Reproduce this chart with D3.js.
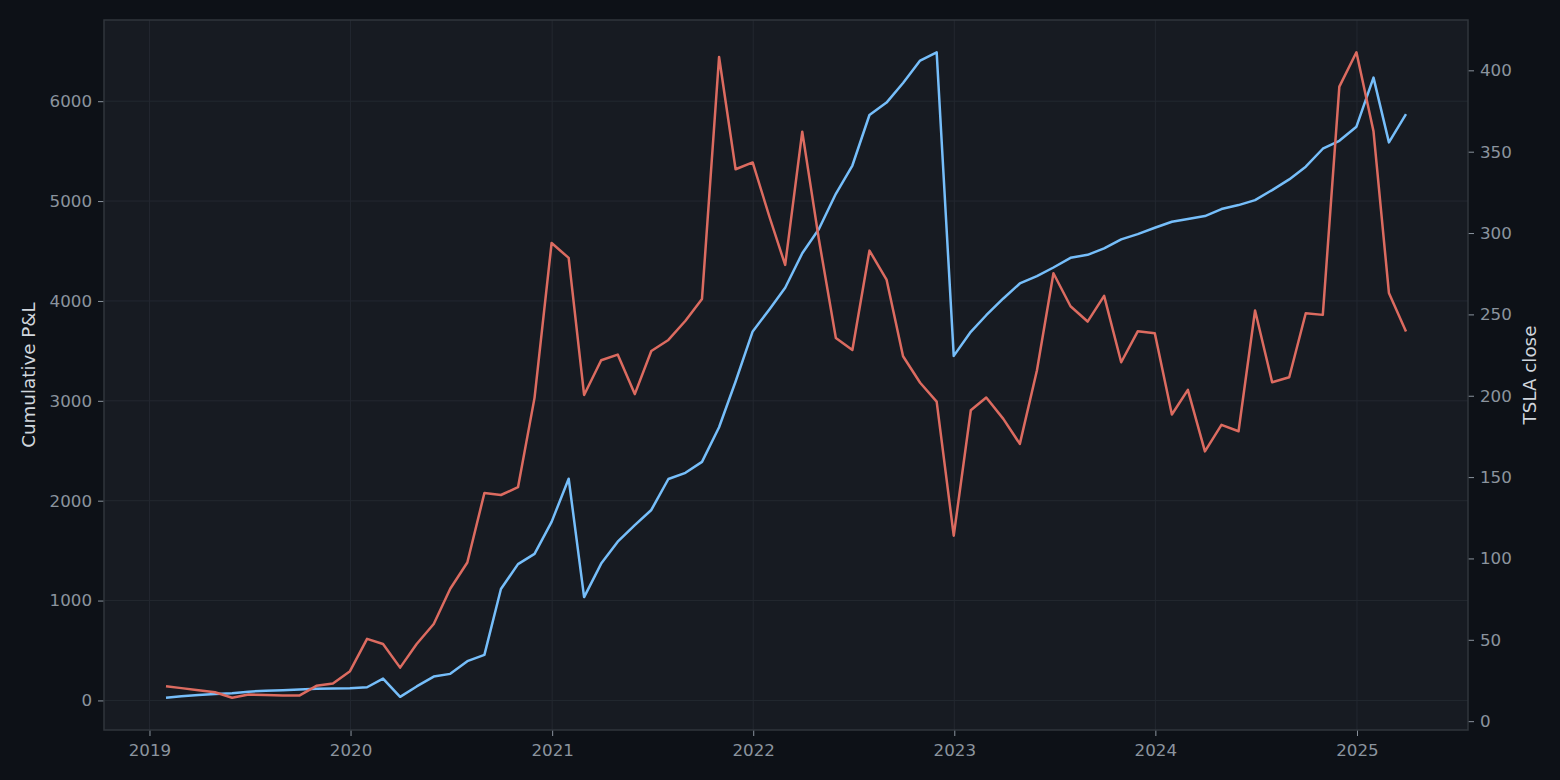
<!DOCTYPE html>
<html>
<head>
<meta charset="utf-8">
<script src="https://cdn.jsdelivr.net/npm/d3@7"></script>
<style>
  html, body { margin: 0; padding: 0; background: #0d1117; }
  svg { display: block; font-family: "DejaVu Sans", sans-serif; }
</style>
</head>
<body>
<div id="chart"></div>
<script>
// monthly closes, one point per month (month end)
const MONTHS = [
  "2019-01","2019-02","2019-03","2019-04","2019-05","2019-06","2019-07","2019-08","2019-09","2019-10","2019-11","2019-12",
  "2020-01","2020-02","2020-03","2020-04","2020-05","2020-06","2020-07","2020-08","2020-09","2020-10","2020-11","2020-12",
  "2021-01","2021-02","2021-03","2021-04","2021-05","2021-06","2021-07","2021-08","2021-09","2021-10","2021-11","2021-12",
  "2022-01","2022-02","2022-03","2022-04","2022-05","2022-06","2022-07","2022-08","2022-09","2022-10","2022-11","2022-12",
  "2023-01","2023-02","2023-03","2023-04","2023-05","2023-06","2023-07","2023-08","2023-09","2023-10","2023-11","2023-12",
  "2024-01","2024-02","2024-03","2024-04","2024-05","2024-06","2024-07","2024-08","2024-09","2024-10","2024-11","2024-12",
  "2025-01","2025-02","2025-03"
];

const PNL = [
  27, 42, 55, 65, 73, 88, 97, 103, 110, 118, 120, 122,
  132, 218, 36, 140, 239, 266, 393, 456, 1116, 1365, 1467, 1788,
  2220, 1035, 1370, 1590, 1756, 1907, 2217, 2279, 2389, 2735, 3193, 3695,
  3920, 4132, 4477, 4718, 5073, 5356, 5862, 5986, 6182, 6407, 6490, 3450,
  3691, 3857, 4025, 4175, 4248, 4335, 4432, 4462, 4526, 4616, 4669, 4733,
  4793, 4820, 4850, 4920, 4960, 5010, 5110, 5217, 5344, 5524, 5604, 5745,
  6236, 5588, 5871
];

const TSLA = [
  21.5, 20.3, 19.0, 17.8, 14.4, 16.4, 16.1, 15.8, 15.7, 21.7, 23.2, 30.7,
  50.6, 47.4, 32.9, 47.4, 59.7, 81.4, 97.5, 140.2, 139.0, 143.8, 198.7, 293.9,
  284.7, 200.5, 221.8, 225.3, 201.0, 227.5, 234.3, 246.1, 259.5, 408.2, 339.2, 343.4,
  309.4, 280.4, 362.3, 296.5, 235.5, 228.1, 289.2, 271.4, 224.3, 208.0, 196.4, 114.0,
  191.1, 198.9, 185.8, 170.4, 215.5, 275.3, 255.0, 245.6, 261.4, 220.6, 239.6, 238.4,
  188.5, 203.6, 165.8, 182.1, 178.2, 252.4, 208.3, 211.4, 250.7, 249.7, 390.0, 411.1,
  362.5, 263.2, 239.5
];

const YEAR_TICKS = [2019, 2020, 2021, 2022, 2023, 2024, 2025];
const PNL_TICKS = [0, 1000, 2000, 3000, 4000, 5000, 6000];
const TSLA_TICKS = [0, 50, 100, 150, 200, 250, 300, 350, 400];

const WIDTH = 1560;
const HEIGHT = 780;
const MARGIN = { top: 20, right: 92, bottom: 50, left: 104 };
const INNER_W = WIDTH - MARGIN.left - MARGIN.right;
const INNER_H = HEIGHT - MARGIN.top - MARGIN.bottom;

const BLUE = "#76befa";
const RED = "#dc6b60";
const TICK_GREY = "#8b949e";
const LABEL_COLOR = "#d0d6dd";

// month string -> last day of that month
const monthEnd = m => {
  const [y, mo] = m.split("-").map(Number);
  return new Date(y, mo, 0);
};

const data = MONTHS.map((m, i) => ({ date: monthEnd(m), pnl: PNL[i], tsla: TSLA[i] }));

// matplotlib style 5% padding
function padded(ext) {
  const span = ext[1] - ext[0];
  return [ext[0] - span * 0.05, ext[1] + span * 0.05];
}

const dateExt = d3.extent(data, d => +d.date);
const X = d3.scaleTime()
  .domain(padded(dateExt).map(t => new Date(t)))
  .range([0, INNER_W]);
const Y_LEFT = d3.scaleLinear()
  .domain(padded(d3.extent(PNL)))
  .range([INNER_H, 0]);
const Y_RIGHT = d3.scaleLinear()
  .domain(padded(d3.extent(TSLA)))
  .range([INNER_H, 0]);

const SVG = d3.select("#chart").append("svg")
  .attr("width", WIDTH)
  .attr("height", HEIGHT);

SVG.append("rect")
  .attr("width", WIDTH)
  .attr("height", HEIGHT)
  .attr("fill", "#0d1117");

const G = SVG.append("g")
  .attr("transform", `translate(${MARGIN.left},${MARGIN.top})`);

G.append("rect")
  .attr("width", INNER_W)
  .attr("height", INNER_H)
  .attr("fill", "#171b22");

// GRID
const yearDates = YEAR_TICKS.map(y => new Date(y, 0, 1));
G.append("g").selectAll("line")
  .data(yearDates)
  .join("line")
  .attr("x1", d => X(d)).attr("x2", d => X(d))
  .attr("y1", 0).attr("y2", INNER_H)
  .attr("stroke", "#232830")
  .attr("stroke-width", 1);
G.append("g").selectAll("line")
  .data(PNL_TICKS)
  .join("line")
  .attr("x1", 0).attr("x2", INNER_W)
  .attr("y1", d => Y_LEFT(d)).attr("y2", d => Y_LEFT(d))
  .attr("stroke", "#232830")
  .attr("stroke-width", 1);

// AXES
function styleAxis(sel) {
  sel.select(".domain").remove();
  sel.selectAll(".tick line").attr("stroke", TICK_GREY).attr("stroke-width", 1);
  sel.selectAll(".tick text")
    .attr("fill", TICK_GREY)
    .style("font-size", "16.7px")
    .style("font-family", "'DejaVu Sans', sans-serif");
}

G.append("g")
  .attr("transform", `translate(0,${INNER_H})`)
  .call(d3.axisBottom(X).tickValues(yearDates).tickFormat(d3.timeFormat("%Y")).tickSize(6).tickPadding(8))
  .call(styleAxis);

G.append("g")
  .call(d3.axisLeft(Y_LEFT).tickValues(PNL_TICKS).tickFormat(d3.format("d")).tickSize(6).tickPadding(6))
  .call(styleAxis);

G.append("g")
  .attr("transform", `translate(${INNER_W},0)`)
  .call(d3.axisRight(Y_RIGHT).tickValues(TSLA_TICKS).tickFormat(d3.format("d")).tickSize(6).tickPadding(6))
  .call(styleAxis);

// LINES
const pnlLine = d3.line().x(d => X(d.date)).y(d => Y_LEFT(d.pnl));
const tslaLine = d3.line().x(d => X(d.date)).y(d => Y_RIGHT(d.tsla));

G.append("path")
  .datum(data)
  .attr("d", pnlLine)
  .attr("fill", "none")
  .attr("stroke", BLUE)
  .attr("stroke-width", 2.5)
  .attr("stroke-linejoin", "round");

G.append("path")
  .datum(data)
  .attr("d", tslaLine)
  .attr("fill", "none")
  .attr("stroke", RED)
  .attr("stroke-width", 2.5)
  .attr("stroke-linejoin", "round");

// SPINES
G.append("rect")
  .attr("width", INNER_W)
  .attr("height", INNER_H)
  .attr("fill", "none")
  .attr("stroke", "#30363d")
  .attr("stroke-width", 1.5);

// AXIS LABELS
SVG.append("text")
  .attr("transform", `translate(35,${MARGIN.top + INNER_H / 2}) rotate(-90)`)
  .attr("text-anchor", "middle")
  .attr("fill", LABEL_COLOR)
  .style("font-size", "18.3px")
  .text("Cumulative P&L");

SVG.append("text")
  .attr("transform", `translate(1536,${MARGIN.top + INNER_H / 2}) rotate(-90)`)
  .attr("text-anchor", "middle")
  .attr("fill", LABEL_COLOR)
  .style("font-size", "18.3px")
  .text("TSLA close");
</script>
</body>
</html>
